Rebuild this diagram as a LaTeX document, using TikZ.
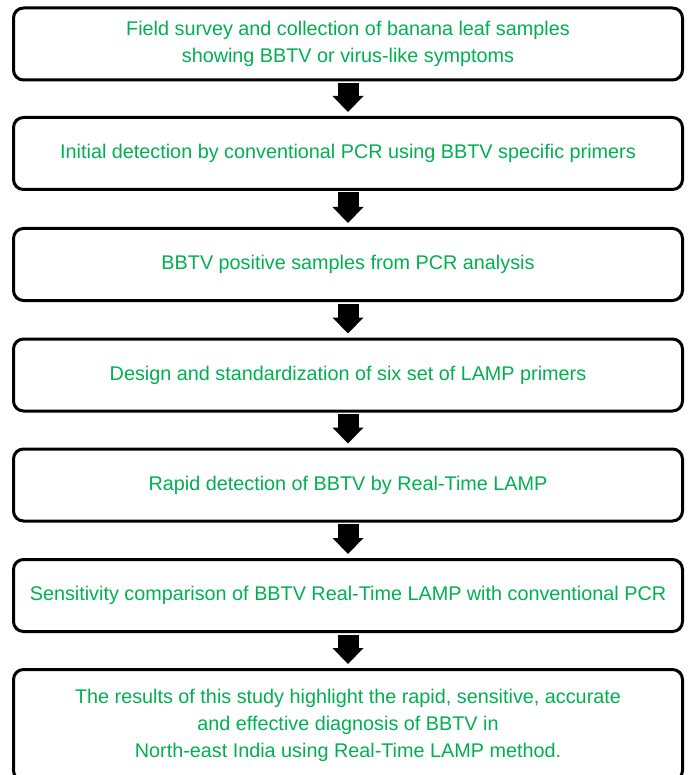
\documentclass[tikz,border=0pt]{standalone}
\usepackage{fontspec}
\setmainfont{Liberation Sans}
\usetikzlibrary{arrows.meta}
\definecolor{leafgreen}{RGB}{0,176,80}
\tikzset{
  stagebox/.style={draw,line width=3pt,rounded corners=10pt,minimum width=669pt,minimum height=72pt,
    text=leafgreen,align=center,font=\fontsize{19.8}{27}\selectfont},
  blockarrow/.style={line width=21pt,-{Triangle[width=31pt,length=16pt,line width=0pt]},
    shorten <=1.5pt,shorten >=4pt}
}

\begin{document}
\begin{tikzpicture}[x=1pt,y=-1pt]
  \clip (0,0) rectangle (687,775);
  % the stages of the work
  \node[stagebox] (survey) at (348,44) {Field survey and collection of banana leaf samples\\showing BBTV or virus-like symptoms};
  \node[stagebox] (pcr) at (348,153.5) {Initial detection by conventional PCR using BBTV specific primers};
  \node[stagebox] (positive) at (348,264.5) {BBTV positive samples from PCR analysis};
  \node[stagebox] (primers) at (348,375) {Design and standardization of six set of LAMP primers};
  \node[stagebox] (lamp) at (348,485) {Rapid detection of BBTV by Real-Time LAMP};
  \node[stagebox] (compare) at (348,595.5) {Sensitivity comparison of BBTV Real-Time LAMP with conventional PCR};
  \node[stagebox,minimum height=111pt] (result) at (348,725) {The results of this study highlight the rapid, sensitive, accurate\\and effective diagnosis of BBTV in\\North-east India using Real-Time LAMP method.};
  % block arrows between them
  \draw[blockarrow] (survey) -- (pcr);
  \draw[blockarrow] (pcr) -- (positive);
  \draw[blockarrow] (positive) -- (primers);
  \draw[blockarrow] (primers) -- (lamp);
  \draw[blockarrow] (lamp) -- (compare);
  \draw[blockarrow] (compare) -- (result);
\end{tikzpicture}
\end{document}
